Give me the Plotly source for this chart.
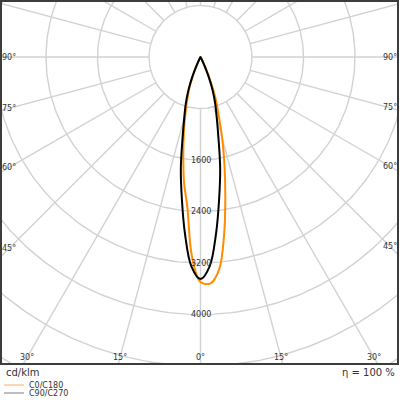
import numpy as np
import plotly.graph_objects as go

# luminous intensity (cd/klm), gamma in degrees
gamma = [0, 2.5, 5, 7.5, 10, 12.5, 15, 17.5, 20, 22.5, 25, 27.5, 30]
i_c0 = [3495, 3520, 3315, 2800, 2220, 1720, 1300, 920, 685, 400, 150, 40, 0]
i_c180 = [3495, 3090, 2340, 1960, 1540, 1190, 905, 680, 495, 285, 100, 20, 0]
i_c90_c270 = [3450, 3255, 2760, 2220, 1760, 1290, 975, 760, 550, 330, 130, 30, 0]

radial_ticks = [1600, 2400, 3200, 4000]
grid_step = 800
side_angles = [90, 75, 60, 45]
bottom_angles = [30, 15, 0]

# page geometry (pixels)
W, H = 400, 400
ML, MR, MT, MB = 1, 2, 1, 36
PW, PH = W - ML - MR, H - MT - MB
POLE_X, POLE_Y = 199.5, 56  # pole position inside plot area
K = 51.5 / 800  # px per cd/klm

FONT = "DejaVu Sans"
TXT = "#333333"


def paper_x(px):
    return (px - ML) / PW


def paper_y(py):
    return 1 - (py - MT) / PH


def curve(left, right):
    g = np.radians(gamma)
    xl = -np.array(left) * np.sin(g)
    yl = -np.array(left) * np.cos(g)
    xr = np.array(right) * np.sin(g)
    yr = -np.array(right) * np.cos(g)
    x = np.concatenate([xl[::-1], xr[1:]])
    y = np.concatenate([yl[::-1], yr[1:]])
    return x, y


fig = go.Figure()

# polar grid: circles and radial spokes
gx, gy = [], []
t = np.linspace(0, 2 * np.pi, 361)
for r in range(grid_step, grid_step * 9, grid_step):
    gx += list(r * np.sin(t)) + [None]
    gy += list(r * np.cos(t)) + [None]
for a in range(0, 360, 15):
    ar = np.radians(a)
    gx += [grid_step * np.sin(ar), 9000 * np.sin(ar), None]
    gy += [-grid_step * np.cos(ar), -9000 * np.cos(ar), None]
fig.add_trace(go.Scatter(x=gx, y=gy, mode="lines", hoverinfo="skip",
                         line=dict(color="#d2d2d2", width=1.4), showlegend=False))

x, y = curve(i_c180, i_c0)
fig.add_trace(go.Scatter(x=x, y=y, mode="lines", name="C0/C180",
                         line=dict(color="#ff8c00", width=2, shape="spline", smoothing=1),
                         showlegend=False))
x, y = curve(i_c90_c270, i_c90_c270)
fig.add_trace(go.Scatter(x=x, y=y, mode="lines", name="C90/C270",
                         line=dict(color="#000000", width=2, shape="spline", smoothing=1),
                         showlegend=False))

annotations = []
for v in radial_ticks:
    annotations.append(dict(x=0, y=-v, xref="x", yref="y", text=str(v), showarrow=False,
                            font=dict(size=8, color=TXT)))

# angle labels sit on the spokes, inset from the frame
x_left = -(POLE_X - 8) / K
x_right = (PW - POLE_X - 8) / K
y_bottom = -(PH - POLE_Y - 7) / K
for a in side_angles:
    dy = 0 if a == 90 else abs(x_left) / np.tan(np.radians(a))
    annotations.append(dict(x=x_left, y=-dy, text=f"{a}°", showarrow=False,
                            font=dict(size=8, color=TXT)))
    dy = 0 if a == 90 else abs(x_right) / np.tan(np.radians(a))
    annotations.append(dict(x=x_right, y=-dy, text=f"{a}°", showarrow=False,
                            font=dict(size=8, color=TXT)))
for a in bottom_angles:
    dx = abs(y_bottom) * np.tan(np.radians(a))
    for s in ([1] if a == 0 else [-1, 1]):
        annotations.append(dict(x=s * dx, y=y_bottom, text=f"{a}°", showarrow=False,
                                font=dict(size=8, color=TXT)))

annotations += [
    dict(x=paper_x(4), y=paper_y(373), xref="paper", yref="paper", text="cd/klm",
         showarrow=False, xanchor="left", yanchor="middle", font=dict(size=10, color=TXT)),
    dict(x=paper_x(397), y=paper_y(373), xref="paper", yref="paper", text="η = 100 %",
         showarrow=False, xanchor="right", yanchor="middle", font=dict(size=10, color=TXT)),
    dict(x=paper_x(27), y=paper_y(385), xref="paper", yref="paper", text="C0/C180",
         showarrow=False, xanchor="left", yanchor="middle", font=dict(size=8, color=TXT)),
    dict(x=paper_x(27), y=paper_y(393), xref="paper", yref="paper", text="C90/C270",
         showarrow=False, xanchor="left", yanchor="middle", font=dict(size=8, color=TXT)),
]

shapes = [
    dict(type="rect", xref="paper", yref="paper", x0=0, x1=1, y0=0, y1=1,
         line=dict(color="#3c3c3c", width=2)),
    dict(type="line", xref="paper", yref="paper", x0=paper_x(4), x1=paper_x(24),
         y0=paper_y(385), y1=paper_y(385), line=dict(color="#ffc894", width=1.5)),
    dict(type="line", xref="paper", yref="paper", x0=paper_x(4), x1=paper_x(24),
         y0=paper_y(393), y1=paper_y(393), line=dict(color="#a8a8a8", width=1.5)),
]

fig.update_layout(
    width=W, height=H,
    margin=dict(l=ML, r=MR, t=MT, b=MB, pad=0),
    paper_bgcolor="white", plot_bgcolor="white",
    font=dict(family=FONT, color=TXT),
    xaxis=dict(range=[-POLE_X / K, (PW - POLE_X) / K], visible=False, fixedrange=True),
    yaxis=dict(range=[-(PH - POLE_Y) / K, POLE_Y / K], visible=False, fixedrange=True),
    annotations=annotations,
    shapes=shapes,
    showlegend=False,
)

# the page body has a default 8px margin; drop it so the 400x400 figure fills the window
fig.write_html("out.html", config={"displayModeBar": False},
               post_script="document.body.style.margin='0';")
